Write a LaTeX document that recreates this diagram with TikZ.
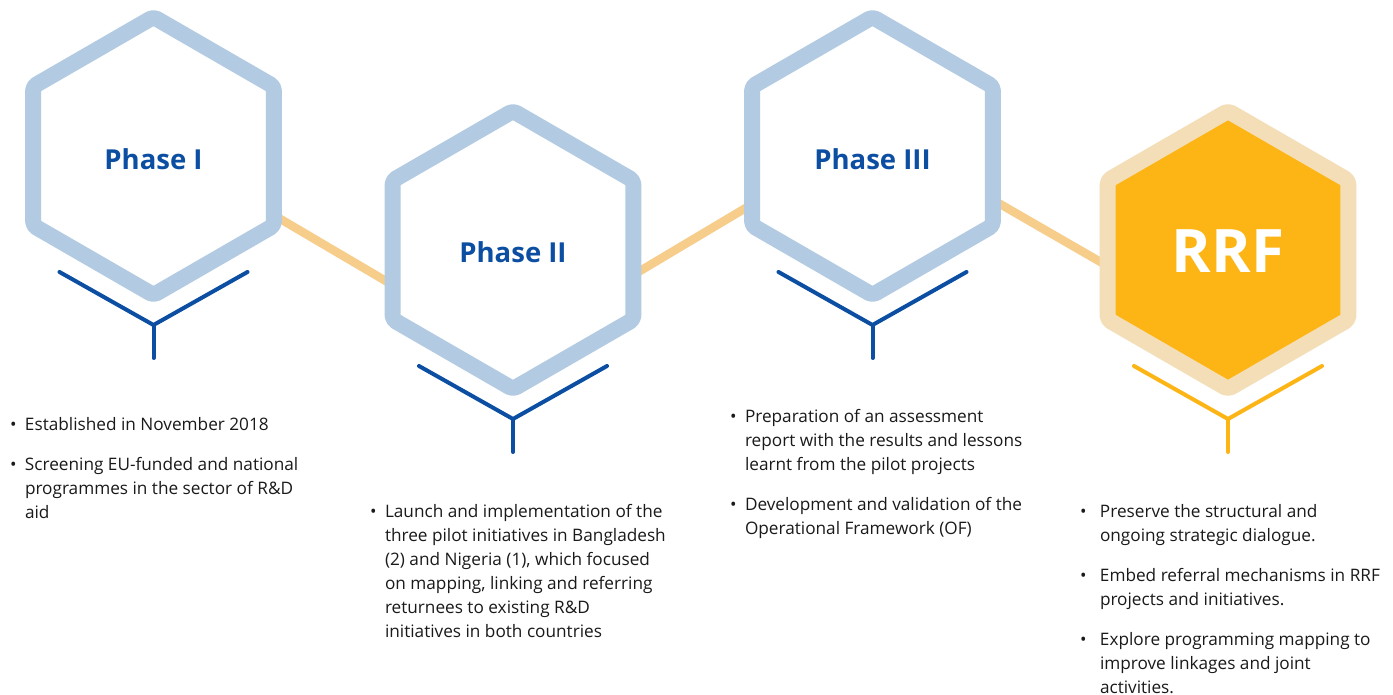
\documentclass[tikz,border=0pt]{standalone}
\usepackage{fontspec}
\setmainfont{Open Sans}
\usetikzlibrary{shapes.geometric,calc,backgrounds}
\definecolor{hexblue}{HTML}{B3CBE2}
\definecolor{darkblue}{HTML}{0B4EA2}
\definecolor{connorange}{HTML}{F7CD8C}
\definecolor{tanc}{HTML}{F3DEB8}
\definecolor{goldc}{HTML}{FDB515}
\definecolor{txt}{HTML}{1A1A1A}
\newcommand{\lowr}[2]{\raisebox{-#1}[\height][\depth]{#2}}
\begin{document}
\begin{tikzpicture}[x=1pt,y=-1pt,
  hexa/.style={regular polygon, regular polygon sides=6, shape border rotate=30,
    minimum size=278pt, inner sep=0pt, outer sep=0pt, line width=16pt, draw=hexblue, fill=white,
    rounded corners=4pt, line join=round, text=darkblue,
    font=\bfseries\fontsize{27.5}{30}\selectfont},
  rrfhex/.style={hexa, draw=tanc, fill=goldc, text=white,
    font=\bfseries\fontsize{60}{64}\selectfont},
  ybr/.style={line width=4pt, line cap=round, line join=miter, draw=darkblue},
  ybrgold/.style={ybr, draw=goldc},
  conn/.style={line width=8.5pt, draw=connorange},
  blist/.style={inner sep=0pt, outer sep=0pt, anchor=base west, text=txt,
    font=\fontsize{17.2}{24}\selectfont}]
\useasboundingbox (0,0) rectangle (1393,695);

% hexagons
\node[hexa] (p1) at (153.5,156) {\lowr{3pt}{Phase I}};
\node[hexa] (p2) at (513,250) {\lowr{2.5pt}{Phase II}};
\node[hexa] (p3) at (872.5,156) {\lowr{3pt}{Phase III}};
\node[rrfhex] (p4) at (1228,250) {\lowr{1.5pt}{RRF}};

% connectors behind
\begin{scope}[on background layer]
  \fill[white] (0,0) rectangle (1393,695);
  \draw[conn] ($(p1.center)+(108.5,52.2)$) -- ($(p2.center)+(-108,42.3)$);
  \draw[conn] ($(p2.center)+(109,31.7)$) -- ($(p3.center)+(-108.5,41.1)$);
  \draw[conn] ($(p3.center)+(109.5,37.6)$) -- ($(p4.center)+(-108,23.2)$);
\end{scope}

% Y brackets
\foreach \n/\s in {p1/ybr,p2/ybr,p3/ybr,p4/ybrgold}{
  \coordinate (\n j) at ($(\n.center)+(0,169)$);
  \draw[\s] ($(\n.center)+(-94,116)$) -- (\n j) -- ($(\n.center)+(94,116)$);
  \draw[\s] (\n j) -- ($(\n.center)+(0,202)$);
}

% texts
\node[blist] (t1) at (10,430) {\begin{tabular}[t]{@{}p{15pt}@{}l@{}}
\textbullet & Established in November 2018\\[16pt]
\textbullet & Screening EU-funded and national\\
 & programmes in the sector of R\&D\\
 & aid
\end{tabular}};

\node[blist] (t2) at (370,517) {\begin{tabular}[t]{@{}p{15pt}@{}l@{}}
\textbullet & Launch and implementation of the\\
 & three pilot initiatives in Bangladesh\\
 & (2) and Nigeria (1), which focused\\
 & on mapping, linking and referring\\
 & returnees to existing R\&D\\
 & initiatives in both countries
\end{tabular}};

\node[blist] (t3) at (730,422) {\begin{tabular}[t]{@{}p{15pt}@{}l@{}}
\textbullet & Preparation of an assessment\\
 & report with the results and lessons\\
 & learnt from the pilot projects\\[16pt]
\textbullet & Development and validation of the\\
 & Operational Framework (OF)
\end{tabular}};

\node[blist] (t4) at (1080,517) {\begin{tabular}[t]{@{}p{20pt}@{}l@{}}
\textbullet & Preserve the structural and\\
 & ongoing strategic dialogue.\\[16pt]
\textbullet & Embed referral mechanisms in RRF\\
 & projects and initiatives.\\[16pt]
\textbullet & Explore programming mapping to\\
 & improve linkages and joint\\
 & activities.
\end{tabular}};
\end{tikzpicture}
\end{document}
